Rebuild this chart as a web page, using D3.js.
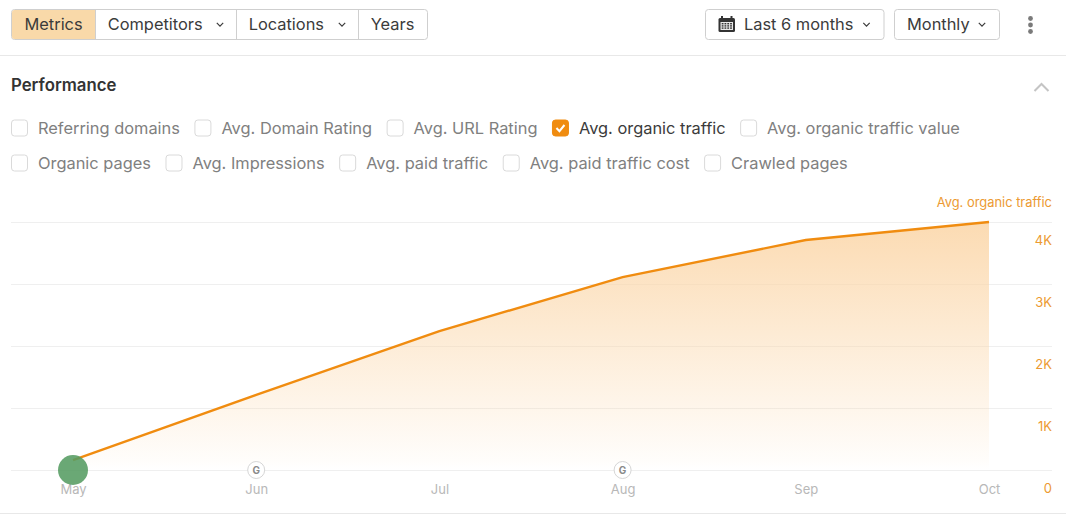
<!DOCTYPE html>
<html>
  <head>
    <meta charset="utf-8">
    <title>Performance</title>
    <script src="https://d3js.org/d3.v7.min.js"></script>
    <style>
      html, body { margin: 0; background: #fff; overflow: hidden; }
      text { font-family: Inter, "Noto Sans", sans-serif; }
    </style>
  </head>
  <body>
    <div id="chart"></div>
    <script>
      const months = ["May", "Jun", "Jul", "Aug", "Sep", "Oct"];
      const organicTraffic = [160, 1210, 2240, 3110, 3710, 4000];
      const yTicks = [0, 1000, 2000, 3000, 4000];
      const googleUpdates = ["Jun", "Aug"];
      const metricsRow1 = ["Referring domains", "Avg. Domain Rating", "Avg. URL Rating", "Avg. organic traffic", "Avg. organic traffic value"];
      const metricsRow2 = ["Organic pages", "Avg. Impressions", "Avg. paid traffic", "Avg. paid traffic cost", "Crawled pages"];
      const activeMetric = "Avg. organic traffic";
      const tabs = ["Metrics", "Competitors", "Locations", "Years"];
      const tabsWithMenu = ["Competitors", "Locations"];

      const orange = "#f08c10";
      const svg = d3.select("#chart").append("svg")
        .attr("width", 1066)
        .attr("height", 518);

      const chevron = (x, y, size, color, width) => svg.append("path")
        .attr("d", `M${x - size},${y - size / 2}L${x},${y + size / 2}L${x + size},${y - size / 2}`)
        .attr("fill", "none")
        .attr("stroke", color)
        .attr("stroke-width", width);

      // toolbar
      const tabEdges = [11.5, 95.5, 236.5, 358.5, 427.5];
      svg.append("rect")
        .attr("x", 11.5).attr("y", 9.5).attr("width", 416).attr("height", 30).attr("rx", 3)
        .attr("fill", "#fff").attr("stroke", "#cfcfcf");
      svg.append("path")
        .attr("d", "M14.5,10H95.5V39H14.5Q12,39 12,36.5V12.5Q12,10 14.5,10Z")
        .attr("fill", "#f9d9a9");
      tabs.forEach((t, i) => {
        if (i > 0) {
          svg.append("line")
            .attr("x1", tabEdges[i]).attr("x2", tabEdges[i]).attr("y1", 9.5).attr("y2", 39.5)
            .attr("stroke", "#cfcfcf");
        }
        const hasMenu = tabsWithMenu.includes(t);
        svg.append("text")
          .attr("x", tabEdges[i] + (i === 0 ? 13 : 12.2))
          .attr("y", 30)
          .attr("font-size", 16.4)
          .attr("fill", "#3b3b3b")
          .text(t);
        if (hasMenu) chevron(tabEdges[i + 1] - 16.5, 24.5, 3.2, "#3b3b3b", 1.2);
      });

      [[705.5, 178.5, "Last 6 months", 744, 866.5], [894.5, 105, "Monthly", 907, 982]].forEach(([x, w, label, tx, cx]) => {
        svg.append("rect")
          .attr("x", x).attr("y", 9.5).attr("width", w).attr("height", 30).attr("rx", 3)
          .attr("fill", "#fff").attr("stroke", "#cfcfcf");
        svg.append("text")
          .attr("x", tx).attr("y", 30).attr("font-size", 16.4).attr("fill", "#3b3b3b").text(label);
        chevron(cx, 24.5, 3.2, "#3b3b3b", 1.2);
      });

      // calendar icon
      svg.append("rect").attr("x", 718.5).attr("y", 18).attr("width", 16.5).attr("height", 14).attr("rx", 1.5).attr("fill", "#333");
      svg.append("rect").attr("x", 721).attr("y", 16).attr("width", 2).attr("height", 3).attr("fill", "#333");
      svg.append("rect").attr("x", 730.5).attr("y", 16).attr("width", 2).attr("height", 3).attr("fill", "#333");
      svg.append("rect").attr("x", 720.5).attr("y", 22).attr("width", 12.5).attr("height", 8).attr("fill", "#e8e8e8");
      d3.range(3).forEach(r => d3.range(4).forEach(c => svg.append("rect")
        .attr("x", 721.7 + c * 2.8).attr("y", 23 + r * 2.2).attr("width", 1.8).attr("height", 1.4).attr("fill", "#333")));

      // more menu dots
      [18.5, 25, 31.5].forEach(y => svg.append("circle")
        .attr("cx", 1030.5).attr("cy", y).attr("r", 2.4).attr("fill", "#7a7a7a"));

      svg.append("line").attr("x1", 0).attr("x2", 1066).attr("y1", 55.5).attr("y2", 55.5).attr("stroke", "#e8e8e8");

      // section header
      svg.append("text")
        .attr("x", 11).attr("y", 91)
        .attr("font-size", 16.8).attr("font-weight", 600).attr("fill", "#333")
        .text("Performance");
      svg.append("path")
        .attr("d", "M1034.5,91L1041.5,84L1048.5,91")
        .attr("fill", "none").attr("stroke", "#c4c4c4").attr("stroke-width", 2);

      // metric checkboxes, laid out left to right from the text widths
      const drawRow = (items, cy) => {
        let x = 11.5;
        items.forEach(name => {
          const on = name === activeMetric;
          svg.append("rect")
            .attr("x", x).attr("y", cy - 8).attr("width", 16).attr("height", 16).attr("rx", 3)
            .attr("fill", on ? orange : "#fff")
            .attr("stroke", on ? orange : "#dadada");
          if (on) {
            svg.append("path")
              .attr("d", `M${x + 4},${cy}L${x + 7},${cy + 3.2}L${x + 12},${cy - 3}`)
              .attr("fill", "none").attr("stroke", "#fff").attr("stroke-width", 2);
          }
          const label = svg.append("text")
            .attr("x", x + 26.5).attr("y", cy + 6)
            .attr("font-size", 16.4)
            .attr("fill", on ? "#3b3b3b" : "#808080")
            .text(name);
          x += 26.5 + label.node().getComputedTextLength() + 15;
        });
      };
      drawRow(metricsRow1, 128);
      drawRow(metricsRow2, 163);

      // chart
      const x = d3.scalePoint().domain(months).range([73, 989]);
      const y = d3.scaleLinear().domain([0, 4000]).range([470, 222]);

      const defs = svg.append("defs");
      const gradient = defs.append("linearGradient")
        .attr("id", "areaFill").attr("x1", 0).attr("x2", 0).attr("y1", 0).attr("y2", 1);
      gradient.append("stop").attr("offset", "0%").attr("stop-color", "#fbd6a8").attr("stop-opacity", 0.88);
      gradient.append("stop").attr("offset", "96%").attr("stop-color", "#fbd6a8").attr("stop-opacity", 0.05);
      gradient.append("stop").attr("offset", "100%").attr("stop-color", "#fbd6a8").attr("stop-opacity", 0);

      const yAxis = svg.append("g")
        .attr("transform", "translate(1052,0)")
        .call(d3.axisLeft(y).tickValues(yTicks).tickSize(1041).tickFormat(d => d ? d / 1000 + "K" : "0"));
      yAxis.select(".domain").remove();
      yAxis.selectAll("line").attr("stroke", "#efefef");
      yAxis.selectAll("text")
        .attr("x", 0).attr("dy", 22.5)
        .attr("text-anchor", "end")
        .attr("font-size", 13)
        .attr("font-family", "Inter")
        .attr("fill", "#ec9a32");

      const points = months.map((m, i) => [m, organicTraffic[i]]);

      svg.append("path")
        .datum(points)
        .attr("fill", "url(#areaFill)")
        .attr("d", d3.area().x(d => x(d[0])).y0(y(0)).y1(d => y(d[1])));
      svg.append("path")
        .datum(points)
        .attr("fill", "none")
        .attr("stroke", orange)
        .attr("stroke-width", 2.4)
        .attr("d", d3.line().x(d => x(d[0])).y(d => y(d[1])));

      const xAxis = svg.append("g")
        .attr("transform", "translate(0,489)")
        .call(d3.axisBottom(x).tickSize(0).tickPadding(0));
      xAxis.select(".domain").remove();
      xAxis.selectAll("text")
        .attr("dy", "0.35em")
        .attr("font-size", 13)
        .attr("font-family", "Inter")
        .attr("fill", "#b8b8b8");

      svg.append("circle")
        .attr("cx", x("May")).attr("cy", y(0)).attr("r", 15)
        .attr("fill", "#559c62").attr("fill-opacity", 0.88);

      googleUpdates.forEach(m => {
        svg.append("circle")
          .attr("cx", x(m)).attr("cy", y(0)).attr("r", 8.5)
          .attr("fill", "#fff").attr("stroke", "#d6d6d6");
        svg.append("text")
          .attr("x", x(m)).attr("y", y(0) + 3.5)
          .attr("text-anchor", "middle")
          .attr("font-size", 10).attr("font-weight", 700).attr("fill", "#8a8a8a")
          .text("G");
      });

      svg.append("text")
        .attr("x", 1052).attr("y", 207)
        .attr("text-anchor", "end")
        .attr("font-size", 12.9)
        .attr("fill", "#ec9a32")
        .text("Avg. organic traffic");

      svg.append("line").attr("x1", 0).attr("x2", 1066).attr("y1", 513.5).attr("y2", 513.5).attr("stroke", "#e8e8e8");
    </script>
  </body>
</html>
